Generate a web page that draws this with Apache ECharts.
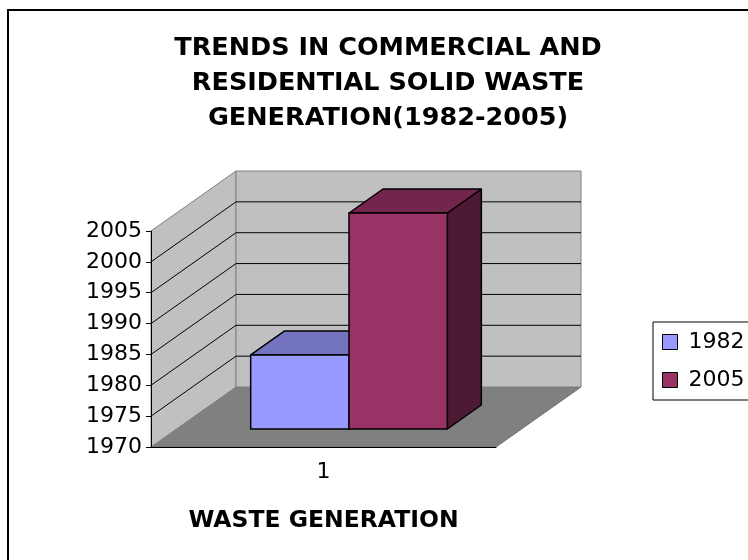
<!DOCTYPE html>
<html>
<head>
<meta charset="utf-8">
<script src="https://cdn.jsdelivr.net/npm/echarts@6/dist/echarts.min.js"></script>
<style>
  html, body { margin: 0; padding: 0; background: #fff; }
  #chart { width: 748px; height: 560px; }
</style>
</head>
<body>
<div id="chart"></div>
<script>
  const categories = ['1']
  const seriesNames = ['1982', '2005']
  const values1982 = [1982]
  const values2005 = [2005]
  const yMin = 1970
  const yMax = 2005
  const yStep = 5

  // 3D look: depth offset of the back wall, and where bars sit in that depth
  const DX = 85
  const DY = -60
  const FRONT = 0.3
  const BACK = 0.7
  const BAR_W = 0.285
  const font = 'DejaVu Sans'

  const chart = echarts.init(document.getElementById('chart'))

  function wallItem(params, api) {
    const cs = params.coordSys
    const x0 = cs.x, x1 = cs.x + cs.width
    const yT = cs.y, yB = cs.y + cs.height
    const wall = { fill: '#c0c0c0', stroke: '#808080', lineWidth: 1 }
    return {
      type: 'group',
      children: [
        { type: 'polygon', shape: { points: [[x0, yB], [x1, yB], [x1 + DX, yB + DY], [x0 + DX, yB + DY]] },
          style: { fill: '#808080', stroke: '#707070', lineWidth: 1 } },
        { type: 'polygon', shape: { points: [[x0, yT], [x0 + DX, yT + DY], [x0 + DX, yB + DY], [x0, yB]] }, style: wall },
        { type: 'rect', shape: { x: x0 + DX, y: yT + DY, width: cs.width, height: cs.height }, style: wall },
      ],
    }
  }

  function gridItem(params, api) {
    const cs = params.coordSys
    const v = api.value(1)
    if (v <= yMin || v >= yMax) return null
    const y = api.coord([0, v])[1]
    const x0 = cs.x, x1 = cs.x + cs.width
    return {
      type: 'polyline',
      shape: { points: [[x0, y], [x0 + DX, y + DY], [x1 + DX, y + DY]] },
      style: { stroke: '#000', lineWidth: 1, fill: null },
    }
  }

  function barItem(idx, colors) {
    return function (params, api) {
      const base = api.coord([api.value(0), yMin])
      const top = api.coord([api.value(0), api.value(1)])
      const w = api.size([1, 0])[0] * BAR_W
      const l = base[0] - w + idx * w
      const fx = DX * FRONT, fy = DY * FRONT
      const bx = DX * BACK, by = DY * BACK
      const line = { stroke: '#000', lineWidth: 1.5, lineJoin: 'round' }
      return {
        type: 'group',
        children: [
          { type: 'polygon', shape: { points: [[l + w + fx, top[1] + fy], [l + w + bx, top[1] + by], [l + w + bx, base[1] + by], [l + w + fx, base[1] + fy]] },
            style: Object.assign({ fill: colors[2] }, line) },
          { type: 'polygon', shape: { points: [[l + fx, top[1] + fy], [l + w + fx, top[1] + fy], [l + w + bx, top[1] + by], [l + bx, top[1] + by]] },
            style: Object.assign({ fill: colors[1] }, line) },
          { type: 'rect', shape: { x: l + fx, y: top[1] + fy, width: w, height: base[1] - top[1] },
            style: Object.assign({ fill: colors[0] }, line) },
        ],
      }
    }
  }

  const yTicks = []
  for (let v = yMin; v <= yMax; v += yStep) yTicks.push([0, v])

  const option = {
    animation: false,
    backgroundColor: '#fff',
    textStyle: { fontFamily: font },
    title: {
      text: 'TRENDS IN COMMERCIAL AND\nRESIDENTIAL SOLID WASTE\nGENERATION(1982-2005)',
      left: 383,
      textAlign: 'center',
      top: 26,
      textStyle: { fontFamily: font, fontWeight: 'bold', fontSize: 25.5, lineHeight: 35, color: '#000' },
    },
    legend: {
      orient: 'vertical',
      left: 653,
      top: 322,
      data: seriesNames,
      icon: 'rect',
      itemWidth: 15,
      itemHeight: 15,
      itemGap: 16,
      padding: [9, 12, 9, 9],
      borderColor: '#000',
      borderWidth: 1,
      itemStyle: { borderColor: '#000', borderWidth: 1 },
      textStyle: { fontFamily: font, fontSize: 22, color: '#000', padding: [0, 0, 0, 6] },
    },
    grid: { left: 151, top: 231, width: 345, height: 216 },
    xAxis: {
      type: 'category',
      data: categories,
      z: 10,
      name: 'WASTE GENERATION',
      nameLocation: 'middle',
      nameGap: 62,
      nameTextStyle: { fontFamily: font, fontWeight: 'bold', fontSize: 23.5, color: '#000' },
      axisLine: { lineStyle: { color: '#000', width: 1 } },
      axisTick: { length: 5, lineStyle: { color: '#000' } },
      axisLabel: { fontFamily: font, fontSize: 22, color: '#000', margin: 14 },
    },
    yAxis: {
      type: 'value',
      min: yMin,
      max: yMax,
      interval: yStep,
      z: 10,
      axisLine: { show: true, lineStyle: { color: '#000', width: 1 } },
      axisTick: { show: true, length: 5, lineStyle: { color: '#000' } },
      axisLabel: { fontFamily: font, fontSize: 22, color: '#000', margin: 9, formatter: v => String(v) },
      splitLine: { show: false },
    },
    graphic: [
      { type: 'rect', shape: { x: 8, y: 10, width: 760, height: 570 }, style: { fill: null, stroke: '#000', lineWidth: 2 }, z: 100 },
    ],
    series: [
      { type: 'custom', name: 'wall', z: 1, silent: true, renderItem: wallItem, data: [[0, yMin]] },
      { type: 'custom', name: 'gridlines', z: 2, silent: true, renderItem: gridItem, data: yTicks },
      { type: 'custom', name: seriesNames[0], z: 3, itemStyle: { color: '#9999ff' },
        renderItem: barItem(0, ['#9999ff', '#7373bf', '#4d4d80']),
        data: values1982.map((v, i) => [i, v]) },
      { type: 'custom', name: seriesNames[1], z: 4, itemStyle: { color: '#993366' },
        renderItem: barItem(1, ['#993366', '#73264d', '#4d1a33']),
        data: values2005.map((v, i) => [i, v]) },
    ],
  }

  chart.setOption(option)
</script>
</body>
</html>
